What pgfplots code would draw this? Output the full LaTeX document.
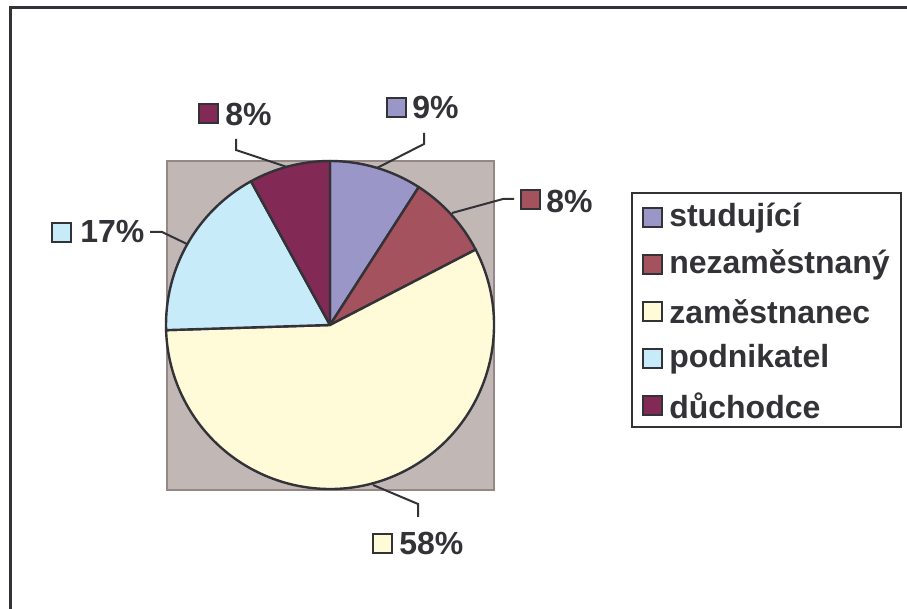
\documentclass[border=0pt]{standalone}
\usepackage{pgfplots}
\pgfplotsset{compat=1.18}
\usepackage{fontspec}
\setmainfont{Liberation Sans}
\definecolor{cA}{RGB}{155,150,200}
\definecolor{cB}{RGB}{165,82,95}
\definecolor{cC}{RGB}{255,250,215}
\definecolor{cD}{RGB}{200,235,250}
\definecolor{cE}{RGB}{130,42,85}
\definecolor{dk}{RGB}{50,50,55}
\definecolor{plotbg}{RGB}{193,184,182}
\definecolor{plotbd}{RGB}{150,135,135}
% data (percent)
\def\vA{9.1}  % studujici
\def\vB{8.3}  % nezamestnany
\def\vC{57.1} % zamestnanec
\def\vD{17.5} % podnikatel
\def\vE{8.0}  % duchodce
\pgfmathsetmacro\aA{90}
\pgfmathsetmacro\aB{\aA-3.6*\vA}
\pgfmathsetmacro\aC{\aB-3.6*\vB}
\pgfmathsetmacro\aD{\aC-3.6*\vC}
\pgfmathsetmacro\aE{\aD-3.6*\vD}
\pgfmathsetmacro\aF{\aE-3.6*\vE}
\begin{document}
\begin{tikzpicture}[font=\fontsize{24}{28}\selectfont\bfseries]
\begin{axis}[name=ax, x=0.75pt, y=0.75pt, xmin=0, xmax=907, ymin=0, ymax=609,
  hide axis, clip=false, scale only axis]
% frame
\draw[dk, line width=2.4pt] (axis cs:10.5,0) |- (axis cs:907,601.5);
% plot area
\filldraw[fill=plotbg, draw=plotbd, line width=1pt] (axis cs:167,119) rectangle (axis cs:494,448);
\coordinate (C) at (axis cs:330,284);
\filldraw[fill=cA, draw=dk, line width=1.8pt, line join=round] (C) -- ++(\aA:123pt) arc[start angle=\aA, end angle=\aB, radius=123pt] -- cycle;
\filldraw[fill=cB, draw=dk, line width=1.8pt, line join=round] (C) -- ++(\aB:123pt) arc[start angle=\aB, end angle=\aC, radius=123pt] -- cycle;
\filldraw[fill=cC, draw=dk, line width=1.8pt, line join=round] (C) -- ++(\aC:123pt) arc[start angle=\aC, end angle=\aD, radius=123pt] -- cycle;
\filldraw[fill=cD, draw=dk, line width=1.8pt, line join=round] (C) -- ++(\aD:123pt) arc[start angle=\aD, end angle=\aE, radius=123pt] -- cycle;
\filldraw[fill=cE, draw=dk, line width=1.8pt, line join=round] (C) -- ++(\aE:123pt) arc[start angle=\aE, end angle=\aF, radius=123pt] -- cycle;
% leader lines
\draw[dk, line width=1.5pt] (axis cs:377,441) -- (axis cs:424,465) -- (axis cs:424,476);
\draw[dk, line width=1.5pt] (axis cs:287,442) -- (axis cs:236,459) -- (axis cs:236,470);
\draw[dk, line width=1.5pt] (axis cs:452,396) -- (axis cs:503,410) -- (axis cs:514,410);
\draw[dk, line width=1.5pt] (axis cs:187,365) -- (axis cs:162,377) -- (axis cs:150,377);
\draw[dk, line width=1.5pt] (axis cs:373,124) -- (axis cs:418,105) -- (axis cs:418,92);
% data labels
\filldraw[fill=cA, draw=dk, line width=1.6pt] (axis cs:387,492) rectangle (axis cs:406,511);
\node[anchor=west, inner sep=0, text=dk] at (axis cs:412,502) {9\%};
\filldraw[fill=cE, draw=dk, line width=1.6pt] (axis cs:199,486) rectangle (axis cs:218,505);
\node[anchor=west, inner sep=0, text=dk] at (axis cs:225,495) {8\%};
\filldraw[fill=cB, draw=dk, line width=1.6pt] (axis cs:521,400) rectangle (axis cs:540,419);
\node[anchor=west, inner sep=0, text=dk] at (axis cs:546,408) {8\%};
\filldraw[fill=cD, draw=dk, line width=1.6pt] (axis cs:52,367) rectangle (axis cs:71,386);
\node[anchor=west, inner sep=0, text=dk] at (axis cs:80,377) {17\%};
\filldraw[fill=cC, draw=dk, line width=1.6pt] (axis cs:373,56) rectangle (axis cs:392,75);
\node[anchor=west, inner sep=0, text=dk] at (axis cs:399,66) {58\%};
% legend
\draw[dk, line width=1.5pt] (axis cs:632,182) rectangle (axis cs:901,416);
\filldraw[fill=cA, draw=dk, line width=1.6pt] (axis cs:643,382) rectangle (axis cs:662,401);
\node[anchor=west, inner sep=0, text=dk] at (axis cs:669,391) {studující};
\filldraw[fill=cB, draw=dk, line width=1.6pt] (axis cs:643,335) rectangle (axis cs:662,354);
\node[anchor=west, inner sep=0, text=dk] at (axis cs:669,344) {nezaměstnaný};
\filldraw[fill=cC, draw=dk, line width=1.6pt] (axis cs:643,288) rectangle (axis cs:662,307);
\node[anchor=west, inner sep=0, text=dk] at (axis cs:669,297) {zaměstnanec};
\filldraw[fill=cD, draw=dk, line width=1.6pt] (axis cs:643,241) rectangle (axis cs:662,260);
\node[anchor=west, inner sep=0, text=dk] at (axis cs:669,250) {podnikatel};
\filldraw[fill=cE, draw=dk, line width=1.6pt] (axis cs:643,194) rectangle (axis cs:662,213);
\node[anchor=west, inner sep=0, text=dk] at (axis cs:669,203) {důchodce};
\end{axis}
\pgfresetboundingbox
\useasboundingbox (ax.south west) rectangle (ax.north east);
\end{tikzpicture}
\end{document}
